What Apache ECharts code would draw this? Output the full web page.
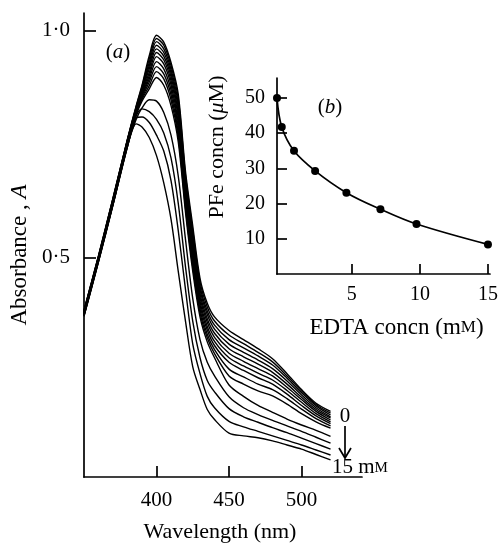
<!DOCTYPE html>
<html><head><meta charset="utf-8">
<script src="https://cdn.jsdelivr.net/npm/echarts@6/dist/echarts.min.js"></script>
<style>html,body{margin:0;padding:0;background:#fff}#c{width:504px;height:548px}</style>
</head><body><div id="c"></div>
<script>
// ---- Data ----
const wavelengths = [350,360,370,380,386,390,395,400,405,410,415,420,425,430,435,440,450,460,470,480,490,500,510,520];
const spectrum0  = [.385,.505,.632,.762,.835,.880,.945,.990,.975,.930,.860,.690,.570,.455,.400,.370,.340,.320,.300,.278,.245,.210,.180,.162];
const spectrum1  = [.384,.504,.631,.761,.833,.877,.938,.983,.968,.923,.850,.681,.560,.447,.392,.361,.330,.311,.292,.271,.240,.207,.177,.158];
const spectrum2  = [.383,.503,.630,.760,.831,.873,.930,.976,.960,.915,.839,.672,.550,.438,.383,.352,.320,.302,.284,.264,.235,.203,.174,.154];
const spectrum3  = [.382,.502,.628,.759,.829,.870,.923,.968,.952,.907,.829,.663,.540,.430,.375,.343,.310,.292,.275,.256,.229,.198,.170,.150];
const spectrum4  = [.381,.501,.627,.758,.827,.866,.916,.960,.944,.899,.818,.654,.530,.421,.366,.334,.300,.282,.266,.248,.222,.193,.166,.147];
const spectrum5  = [.380,.500,.626,.757,.825,.863,.908,.952,.936,.890,.808,.645,.520,.413,.358,.325,.290,.272,.256,.240,.215,.188,.162,.143];
const spectrum6  = [.379,.499,.625,.756,.823,.859,.901,.943,.927,.881,.797,.636,.510,.404,.349,.316,.280,.262,.246,.231,.208,.182,.157,.139];
const spectrum7  = [.378,.498,.624,.755,.821,.856,.894,.932,.916,.870,.787,.627,.500,.396,.341,.307,.270,.252,.236,.222,.200,.175,.152,.135];
const spectrum8  = [.377,.497,.622,.754,.819,.852,.887,.921,.905,.859,.776,.618,.490,.387,.332,.298,.255,.238,.222,.210,.190,.167,.146,.130];
const spectrum9  = [.376,.496,.621,.752,.817,.849,.879,.910,.894,.848,.766,.609,.480,.379,.324,.289,.240,.222,.207,.196,.178,.157,.139,.125];
const spectrum10 = [.375,.495,.620,.750,.815,.845,.872,.897,.880,.835,.755,.600,.470,.370,.315,.280,.220,.195,.175,.160,.145,.132,.120,.107];
const spectrum11 = [.374,.494,.619,.748,.805,.830,.848,.845,.820,.770,.680,.540,.410,.320,.270,.240,.194,.170,.155,.142,.130,.118,.105,.092];
const spectrum12 = [.373,.493,.618,.746,.812,.828,.822,.805,.775,.720,.620,.480,.360,.280,.230,.205,.168,.150,.138,.126,.115,.103,.091,.079];
const spectrum13 = [.372,.492,.617,.745,.808,.810,.798,.770,.735,.670,.560,.430,.310,.245,.195,.170,.140,.128,.118,.108,.098,.088,.077,.066];
const spectrum14 = [.371,.491,.616,.745,.795,.788,.765,.725,.665,.585,.470,.360,.260,.210,.166,.144,.114,.108,.104,.097,.088,.079,.067,.055];

const edtaConc = [-0.5, -0.15, 0.75, 2.3, 4.6, 7.1, 9.75, 15];
const pfeConc  = [50, 41.8, 35, 29.3, 23.1, 18.4, 14.2, 8.4];

const mainXTicks  = [400, 450, 500];
const mainYTicks  = [0.5, 1.0];
const insetXTicks = [5, 10, 15];
const insetYTicks = [10, 20, 30, 40, 50];

// ---- Chart ----
const spectra = [spectrum0,spectrum1,spectrum2,spectrum3,spectrum4,spectrum5,spectrum6,spectrum7,
                 spectrum8,spectrum9,spectrum10,spectrum11,spectrum12,spectrum13,spectrum14];
const FONT = 'Liberation Serif';
const BLACK = '#000';
const chart = echarts.init(document.getElementById('c'));

const axisLineStyle = {lineStyle: {color: BLACK, width: 1.7}};
const tickStyle = {color: BLACK, width: 1.7};

const series = spectra.map((s, k) => ({
  type: 'line', name: 'spectrum' + k, xAxisIndex: 0, yAxisIndex: 0,
  data: wavelengths.map((w, i) => [w, s[i]]),
  showSymbol: false, smooth: 0.3,
  lineStyle: {color: BLACK, width: 1.4}, silent: true
}));
series.push({
  type: 'line', name: 'PFe', xAxisIndex: 1, yAxisIndex: 1,
  data: edtaConc.map((c, i) => [c, pfeConc[i]]),
  smooth: 0.35, symbol: 'circle', symbolSize: 8, showSymbol: true,
  itemStyle: {color: BLACK}, lineStyle: {color: BLACK, width: 1.7}
});

chart.setOption({
  animation: false,
  backgroundColor: '#fff',
  grid: [
    {left: 84, top: 13, width: 278, height: 468},
    {left: 277, top: 78, width: 213, height: 196}
  ],
  xAxis: [
    {type: 'value', gridIndex: 0, min: 350, max: 541.7,
     axisLine: {onZero: false, ...axisLineStyle},
     axisTick: {inside: true, length: 11, customValues: mainXTicks, lineStyle: tickStyle},
     axisLabel: {customValues: mainXTicks, margin: 13, fontFamily: FONT, fontSize: 21, color: BLACK},
     splitLine: {show: false},
     name: 'Wavelength (nm)', nameLocation: 'middle', nameGap: 44,
     nameTextStyle: {fontFamily: FONT, fontSize: 22, color: BLACK, padding: [0, 6, 0, 0]}},
    {type: 'value', gridIndex: 1, min: -0.5, max: 15.15,
     axisLine: {onZero: false, ...axisLineStyle},
     axisTick: {inside: true, length: 10, customValues: insetXTicks, lineStyle: tickStyle},
     axisLabel: {customValues: insetXTicks, margin: 11, fontFamily: FONT, fontSize: 20, color: BLACK},
     splitLine: {show: false},
     name: '{n|EDTA concn (m}{s|M}{n|)}', nameLocation: 'middle', nameGap: 42,
     nameTextStyle: {color: BLACK, padding: [0, 0, 0, 26], rich: {
       n: {fontFamily: FONT, fontSize: 23, color: BLACK},
       s: {fontFamily: FONT, fontSize: 17, color: BLACK}}}}
  ],
  yAxis: [
    {type: 'value', gridIndex: 0, min: 0.0175, max: 1.039,
     axisLine: {onZero: false, ...axisLineStyle},
     axisTick: {inside: true, length: 12, customValues: mainYTicks, lineStyle: tickStyle},
     axisLabel: {customValues: mainYTicks, margin: 14, fontFamily: FONT, fontSize: 21, color: BLACK,
       formatter: v => v.toFixed(1).replace('.', '\u00B7')},
     splitLine: {show: false}},
    {type: 'value', gridIndex: 1, min: 0, max: 55.7,
     axisLine: {onZero: false, ...axisLineStyle},
     axisTick: {inside: true, length: 10, customValues: insetYTicks, lineStyle: tickStyle},
     axisLabel: {customValues: insetYTicks, margin: 12, fontFamily: FONT, fontSize: 20, color: BLACK},
     splitLine: {show: false}}
  ],
  graphic: [
    {type: 'text', x: 20, y: 255, rotation: Math.PI / 2,
     style: {text: '{n|Absorbance , }{i|A}', align: 'center', verticalAlign: 'middle',
       rich: {n: {fontFamily: FONT, fontSize: 23, fill: BLACK},
              i: {fontFamily: FONT, fontSize: 23, fontStyle: 'italic', fill: BLACK}}}},
    {type: 'text', x: 217, y: 147, rotation: Math.PI / 2,
     style: {text: '{n|PFe concn (}{i|\u03BC}{n|M)}', align: 'center', verticalAlign: 'middle',
       rich: {n: {fontFamily: FONT, fontSize: 22, fill: BLACK},
              i: {fontFamily: FONT, fontSize: 22, fontStyle: 'italic', fill: BLACK}}}},
    {type: 'text', x: 118, y: 52,
     style: {text: '{n|(}{i|a}{n|)}', align: 'center', verticalAlign: 'middle',
       rich: {n: {fontFamily: FONT, fontSize: 21, fill: BLACK},
              i: {fontFamily: FONT, fontSize: 21, fontStyle: 'italic', fill: BLACK}}}},
    {type: 'text', x: 330, y: 107,
     style: {text: '{n|(}{i|b}{n|)}', align: 'center', verticalAlign: 'middle',
       rich: {n: {fontFamily: FONT, fontSize: 21, fill: BLACK},
              i: {fontFamily: FONT, fontSize: 21, fontStyle: 'italic', fill: BLACK}}}},
    {type: 'text', x: 345, y: 416,
     style: {text: '0', font: '21px "Liberation Serif"', fill: BLACK, align: 'center', verticalAlign: 'middle'}},
    {type: 'line', shape: {x1: 345, y1: 426, x2: 345, y2: 457}, style: {stroke: BLACK, lineWidth: 1.7}},
    {type: 'polyline', shape: {points: [[339, 448], [345, 458], [351, 448]]}, style: {stroke: BLACK, lineWidth: 1.7, fill: null}},
    {type: 'text', x: 332, y: 467,
     style: {text: '{n|15 m}{s|M}', align: 'left', verticalAlign: 'middle',
       rich: {n: {fontFamily: FONT, fontSize: 21, fill: BLACK},
              s: {fontFamily: FONT, fontSize: 15, fill: BLACK, padding: [3, 0, 0, 0]}}}}
  ],
  series: series
});
</script>
</body></html>
